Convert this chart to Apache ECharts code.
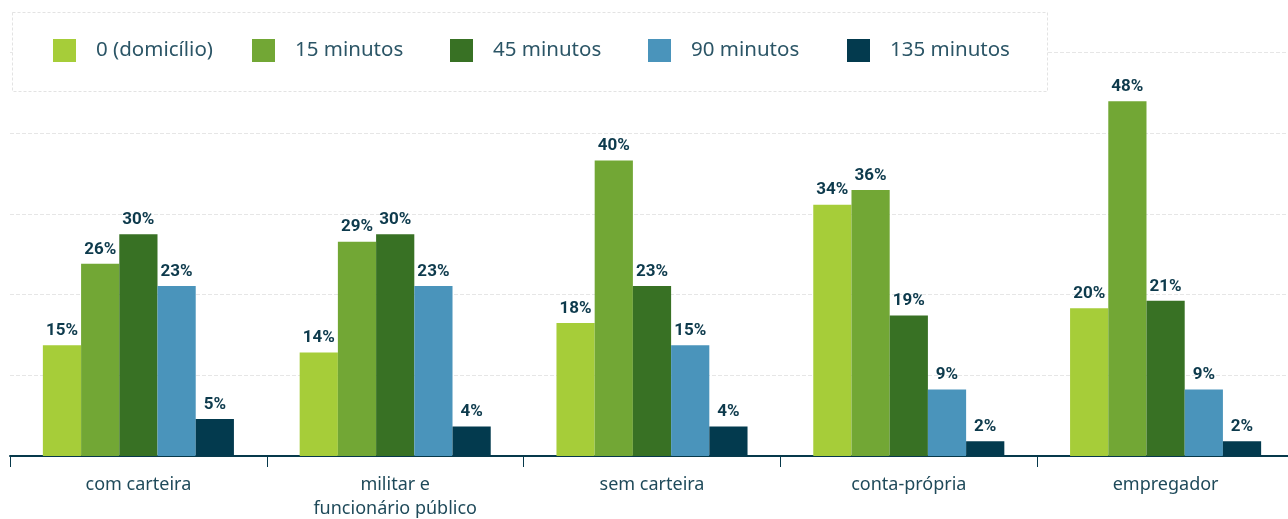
<!DOCTYPE html>
<html>
<head>
<meta charset="utf-8">
<script src="https://cdn.jsdelivr.net/npm/echarts@6/dist/echarts.min.js"></script>
<style>
html,body{margin:0;padding:0;background:#fff;overflow:hidden;}
#chart{width:1288px;height:519px;}
</style>
</head>
<body>
<div id="chart"></div>
<script>
var categories = ['com carteira', 'militar e\nfuncionário público', 'sem carteira', 'conta-própria', 'empregador'];
var seriesNames = ['0 (domicílio)', '15 minutos', '45 minutos', '90 minutos', '135 minutos'];
var colors = ['#a6cd39', '#72a735', '#387124', '#4a94bb', '#033a4e'];
var v0 = [15, 14, 18, 34, 20];
var v15 = [26, 29, 40, 36, 48];
var v45 = [30, 30, 23, 19, 21];
var v90 = [23, 23, 15, 9, 9];
var v135 = [5, 4, 4, 2, 2];
var seriesValues = [v0, v15, v45, v90, v135];
var legendLefts = [53, 252, 450, 648, 847];

var chart = echarts.init(document.getElementById('chart'), null, { width: 1288, height: 519 });
var series = seriesNames.map(function (name, i) {
  return {
    name: name,
    type: 'bar',
    data: seriesValues[i],
    barGap: '0%',
    barCategoryGap: '25.6%',
    itemStyle: { color: colors[i] },
    label: {
      show: true,
      position: 'top',
      distance: 6,
      formatter: '{c}%',
      color: '#0d3a4c',
      fontFamily: 'Roboto',
      fontWeight: 'bold',
      fontSize: 17
    }
  };
});

var legends = seriesNames.map(function (name, i) {
  return {
    left: legendLefts[i],
    top: 39,
    padding: 0,
    itemWidth: 23,
    itemHeight: 23,
    icon: 'rect',
    z: 5,
    textStyle: {
      fontFamily: 'Noto Sans',
      fontSize: 20.5,
      lineHeight: 23,
      color: '#2b5566',
      padding: [0, 0, 0, 15]
    },
    data: [name]
  };
});

chart.setOption({
  animation: false,
  backgroundColor: '#ffffff',
  color: colors,
  graphic: [{
    type: 'rect',
    z: 3,
    shape: { x: 12.5, y: 12.5, width: 1035, height: 79 },
    style: { fill: '#ffffff', stroke: '#e3e3e3', lineWidth: 1, lineDash: [3, 2] }
  }],
  legend: legends,
  grid: {
    left: 10,
    width: 1284,
    top: 52.5,
    bottom: 63,
    outerBoundsMode: 'none',
    containLabel: false
  },
  xAxis: {
    type: 'category',
    data: categories,
    axisLine: { lineStyle: { color: '#07394b', width: 2 } },
    axisTick: { show: true, length: 11, lineStyle: { color: '#07394b', width: 1 } },
    axisLabel: {
      margin: 17,
      fontFamily: 'Noto Sans',
      fontSize: 18,
      lineHeight: 24,
      color: '#1f4a5a'
    }
  },
  yAxis: {
    type: 'value',
    min: 0,
    max: 54.6,
    interval: 10.92,
    axisLabel: { show: false },
    axisLine: { show: false },
    axisTick: { show: false },
    splitLine: { show: true, lineStyle: { color: '#e6e6e6', type: 'dashed', width: 1 } }
  },
  series: series
});
</script>
</body>
</html>
